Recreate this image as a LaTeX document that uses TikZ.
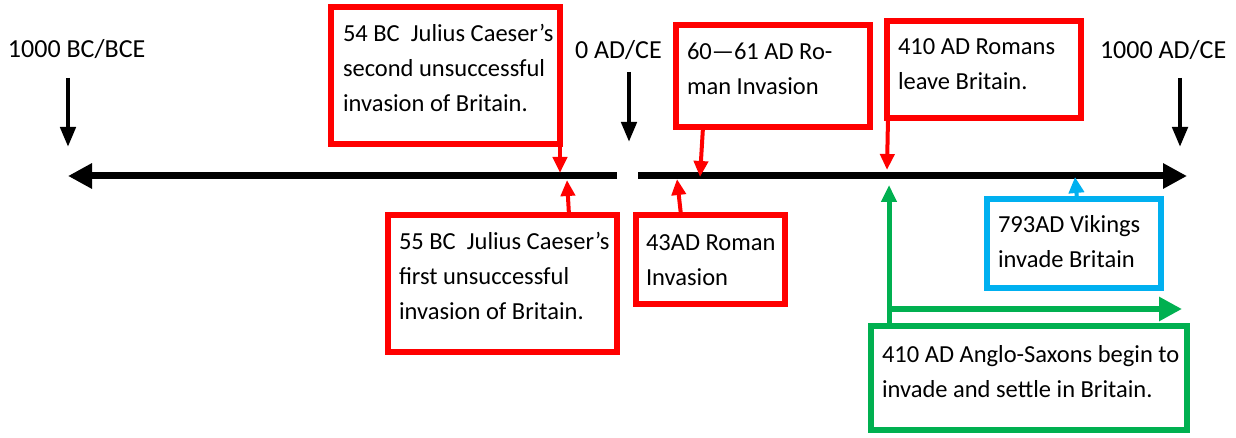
\documentclass[tikz,border=0pt]{standalone}
\usepackage{fontspec}
\setmainfont{Carlito}
\usetikzlibrary{arrows.meta}
\definecolor{rd}{RGB}{255,0,0}
\definecolor{bl}{RGB}{0,176,240}
\definecolor{gr}{RGB}{0,176,80}
\begin{document}
\begin{tikzpicture}[x=1pt,y=-1pt,
  lbl/.style={anchor=base west, inner sep=0pt, outer sep=0pt, font=\fontsize{26}{30}\selectfont},
  txt/.style={anchor=base west, inner sep=0pt, outer sep=0pt, align=left, font=\fontsize{24.5}{35}\selectfont},
  evbox/.style={draw=#1, line width=6.5pt, inner sep=0pt, outer sep=0pt, anchor=north west},
  tl/.style={line width=7pt, -{Triangle[length=24pt,width=24pt]}},
  blk/.style={line width=4.5pt, -{Triangle[length=20pt,width=15pt]}},
  con/.style={draw=#1, line width=4pt, -{Triangle[length=16pt,width=14pt]}},
]
\useasboundingbox (0,0) rectangle (1236,438);

% timeline
\coordinate (tlLs) at (617,176);
\coordinate (tlLe) at (68,176);
\coordinate (tlRs) at (638,176);
\coordinate (tlRe) at (1187,176);
\draw[tl] (tlLs) -- (tlLe);
\draw[tl] (tlRs) -- (tlRe);

% era labels
\node[lbl] (lbc) at (8,58) {1000 BC/BCE};
\node[lbl] (lzero) at (575,59) {0 AD/CE};
\node[lbl] (lad) at (1100,59) {1000 AD/CE};
\coordinate (a1s) at (68,78);   \coordinate (a1e) at (68,147);
\coordinate (a2s) at (629,72);  \coordinate (a2e) at (629,142);
\coordinate (a3s) at (1180,78); \coordinate (a3e) at (1180,147);
\draw[blk] (a1s) -- (a1e);
\draw[blk] (a2s) -- (a2e);
\draw[blk] (a3s) -- (a3e);

% boxes (text nodes anchored at the baseline of their last line)
\node[evbox=rd, minimum width=229pt, minimum height=137pt] (b1) at (331,7) {};
\node[txt] (t1) at (343,112) {54 BC\ \ Julius Caeser’s\\second unsuccessful\\invasion of Britain.};

\node[evbox=rd, minimum width=194pt, minimum height=102pt] (b2) at (676,25) {};
\node[txt] (t2) at (687,95) {60—61 AD Ro-\\man Invasion};

\node[evbox=rd, minimum width=194pt, minimum height=97pt] (b3) at (887,21) {};
\node[txt] (t3) at (898,90) {410 AD Romans\\leave Britain.};

\node[evbox=rd, minimum width=229pt, minimum height=137pt] (b4) at (388,215) {};
\node[txt] (t4) at (399,319) {55 BC\ \ Julius Caeser’s\\first unsuccessful\\invasion of Britain.};

\node[evbox=rd, minimum width=149pt, minimum height=89pt] (b5) at (636,215) {};
\node[txt] (t5) at (646,285) {43AD Roman\\Invasion};

\node[evbox=bl, line width=6pt, minimum width=174pt, minimum height=89pt] (b6) at (987,199) {};
\node[txt] (t6) at (998,268) {793AD Vikings\\invade Britain};

\node[evbox=gr, line width=6pt, minimum width=316pt, minimum height=104pt] (b7) at (871,326) {};
\node[txt] (t7) at (882,397) {410 AD Anglo-Saxons begin to\\invade and settle in Britain.};

% connectors
\coordinate (c1) at (560,173);
\coordinate (c2) at (700,177);
\coordinate (c3) at (887,170);
\coordinate (c4) at (567,180);
\coordinate (c5) at (677,179);
\coordinate (c6) at (1075,177);
\coordinate (c7) at (889,185);
\coordinate (g0) at (889,309);
\coordinate (g1) at (1182,309);
\draw[con=rd] (b1.south east) -- (c1);
\draw[con=rd] ([xshift=27pt]b2.south west) -- (c2);
\draw[con=rd] ([xshift=1pt]b3.south west) -- (c3);
\draw[con=rd] ([xshift=181pt]b4.north west) -- (c4);
\draw[con=rd] ([xshift=45pt]b5.north west) -- (c5);
\draw[draw=bl, line width=4pt, -{Triangle[length=16pt,width=15pt]}] ([xshift=90pt]b6.north west) -- (c6);
\draw[draw=gr, line width=5pt, -{Triangle[length=17pt,width=15pt]}] ([xshift=18pt]b7.north west) -- (c7);
\draw[draw=gr, line width=6pt, -{Triangle[length=23pt,width=23pt]}] (g0) -- (g1);
\end{tikzpicture}
\end{document}
